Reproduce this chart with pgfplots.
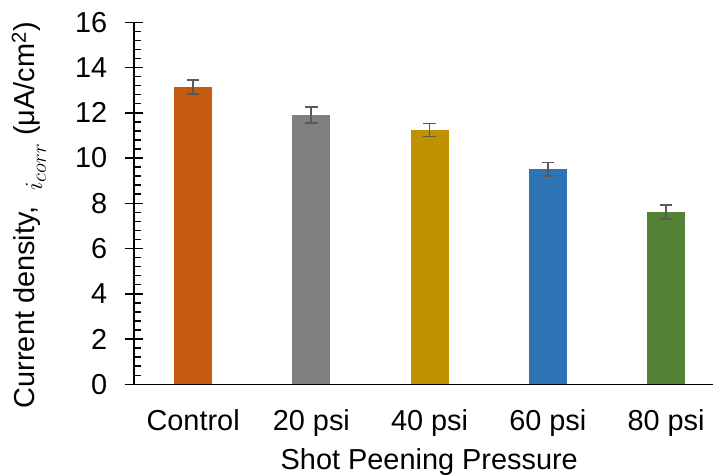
\documentclass[border=0pt]{standalone}
\usepackage{pgfplots}
\pgfplotsset{compat=1.18}
\usepackage{fontspec}
\setmainfont{Liberation Sans}
\definecolor{cA}{HTML}{C55A11}
\definecolor{cB}{HTML}{7F7F7F}
\definecolor{cC}{HTML}{BF9000}
\definecolor{cD}{HTML}{2E75B6}
\definecolor{cE}{HTML}{548235}
\definecolor{errc}{HTML}{595959}
\pgfplotsset{
  mybar/.style={fill=#1, draw=none,
    error bars/.cd, y dir=both, y explicit,
    error bar style={color=errc, line width=1.8bp},
    error mark options={rotate=90, mark size=6.2bp, line width=1.8bp, color=errc}}
}
\begin{document}
\begin{tikzpicture}
\begin{axis}[
  scale only axis, width=579bp, height=362bp,
  xmin=-0.5, xmax=4.397, ymin=0, ymax=16,
  axis x line=bottom, axis y line=left,
  axis line style={black, line width=1.5bp, -},
  ybar, bar width=38bp, bar shift=0pt,
  ytick={0,2,...,16}, minor y tick num=4,
  xtick={0,1,2,3,4},
  xticklabels={Control,20 psi,40 psi,60 psi,80 psi},
  xtick style={draw=none},
  tick align=inside, major tick length=18bp, minor tick length=7.5bp,
  every major y tick/.append style={xshift=-9bp},
  ytick style={black, line width=1.5bp},
  /pgf/number format/assume math mode=true,
  ticklabel style={font=\fontsize{29}{34}\selectfont},
  xticklabel style={anchor=base, inner sep=0pt, yshift=-46bp},
  yticklabel style={anchor=east, inner sep=0pt, xshift=-26.5bp},
  xlabel={Shot Peening Pressure},
  ylabel={Current density,\ \ \raisebox{-0.25em}{$i_{corr}$} (μA/cm\textsuperscript{2})},
  label style={font=\fontsize{29}{34}\selectfont},
  xlabel style={at={(axis description cs:0.510,-0.234)}, anchor=base, inner sep=0pt},
  ylabel style={at={(axis description cs:-0.171,0.467)}, anchor=base, inner sep=0pt},
]
\addplot[mybar=cA] coordinates {(0,13.14) +- (0,0.32)};
\addplot[mybar=cB] coordinates {(1,11.89) +- (0,0.35)};
\addplot[mybar=cC] coordinates {(2,11.24) +- (0,0.29)};
\addplot[mybar=cD] coordinates {(3,9.50) +- (0,0.30)};
\addplot[mybar=cE] coordinates {(4,7.60) +- (0,0.31)};
\end{axis}
\pgfresetboundingbox
\path ([shift={(-134bp,-90.7bp)}]current axis.south west) rectangle ([shift={(579bp,384.3bp)}]current axis.south west);
\end{tikzpicture}
\end{document}
